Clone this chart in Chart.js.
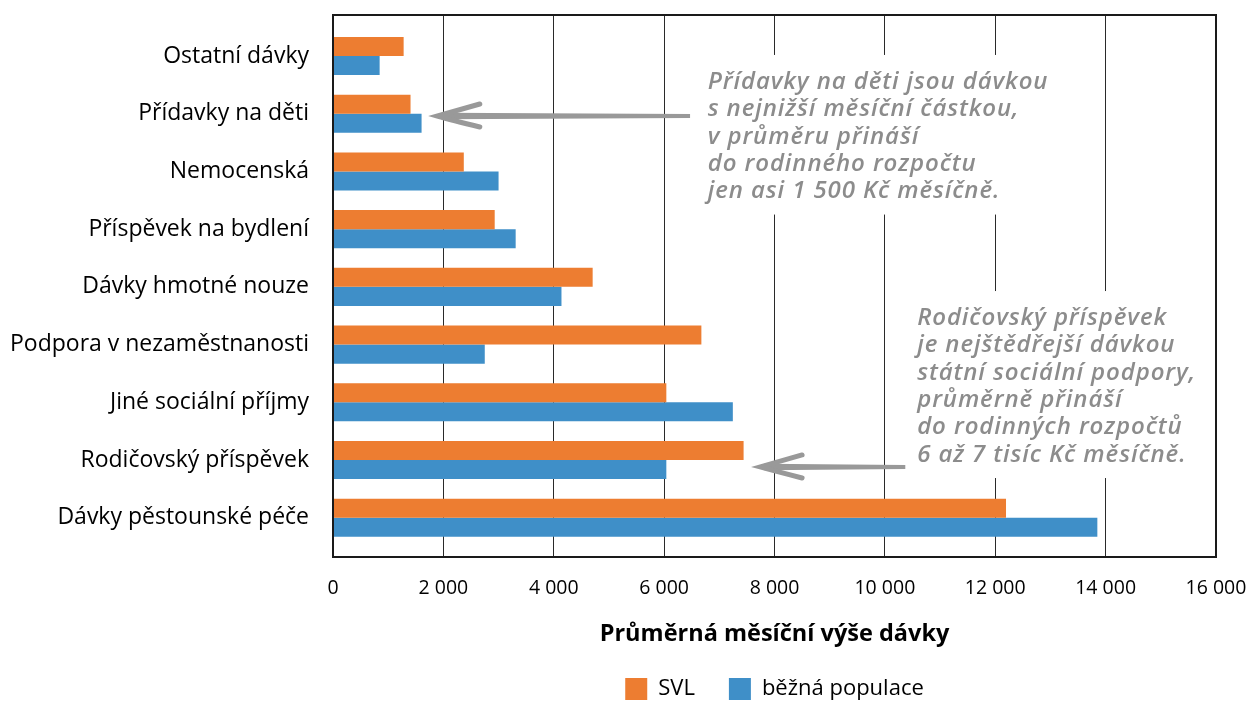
<!DOCTYPE html>
<html>
<head>
<meta charset="utf-8">
<script src="https://cdn.jsdelivr.net/npm/chart.js@4"></script>
<style>
  html, body { margin: 0; padding: 0; background: #fff; }
  #wrap { width: 1255px; height: 701px; }
</style>
</head>
<body>
<div id="wrap"><canvas id="c"></canvas></div>
<script>
const categories = [
  "Ostatní dávky",
  "Přídavky na děti",
  "Nemocenská",
  "Příspěvek na bydlení",
  "Dávky hmotné nouze",
  "Podpora v nezaměstnanosti",
  "Jiné sociální příjmy",
  "Rodičovský příspěvek",
  "Dávky pěstounské péče"
];
const svl = [1280, 1405, 2370, 2930, 4705, 6675, 6040, 7440, 12195];
const bezna = [845, 1605, 3000, 3310, 4140, 2750, 7245, 6040, 13850];
const seriesNames = ["SVL", "běžná populace"];
const xTitle = "Průměrná měsíční výše dávky";

const note1 = [
  "Přídavky na děti jsou dávkou",
  "s nejnižší měsíční částkou,",
  "v průměru přináší",
  "do rodinného rozpočtu",
  "jen asi 1 500 Kč měsíčně."
];
const note2 = [
  "Rodičovský příspěvek",
  "je nejštědřejší dávkou",
  "státní sociální podpory,",
  "průměrně přináší",
  "do rodinných rozpočtů",
  "6 až 7 tisíc Kč měsíčně."
];

const ORANGE = "#ED7D31";
const BLUE = "#3F8FC8";
const NOTE_GRAY = "#8c8c8c";

function fmt(v) {
  return String(v).replace(/\B(?=(\d{3})+(?!\d))/g, "\u00a0");
}

// poznámky a šipky kreslené přes osy grafu
const notes = [
  { lines: note1, x: 6790, y: 0.45, arrow: { from: 6470, to: 1890, head: 2660, y: 1.04 } },
  { lines: note2, x: 10585, y: 4.54, arrow: { from: 10370, to: 7740, head: 8500, y: 7.12 } }
];

const notesPlugin = {
  id: "notes",
  beforeDatasetsDraw(chart) {
    const { ctx, scales: { x, y } } = chart;
    const lh = 27.4;
    ctx.save();
    ctx.font = "italic 600 24px 'Open Sans'";
    ctx.letterSpacing = "0.9px";
    notes.forEach(n => {
      const left = x.getPixelForValue(n.x);
      const top = y.getPixelForValue(n.y);
      let w = 0;
      n.lines.forEach(t => { w = Math.max(w, ctx.measureText(t).width); });
      ctx.fillStyle = "#fff";
      ctx.fillRect(left - 10, top - 27, w + 22, lh * (n.lines.length - 1) + 50);
      ctx.fillStyle = NOTE_GRAY;
      ctx.textBaseline = "middle";
      n.lines.forEach((t, i) => ctx.fillText(t, left, top + i * lh));
    });
    ctx.restore();
  },
  afterDatasetsDraw(chart) {
    const { ctx, chartArea: a, scales: { x, y } } = chart;
    ctx.save();
    ctx.strokeStyle = "#1a1a1a";
    ctx.lineWidth = 2;
    ctx.strokeRect(a.left, a.top, a.right - a.left, a.bottom - a.top);

    ctx.strokeStyle = "#999";
    ctx.fillStyle = "#999";
    ctx.lineCap = "round";
    notes.forEach(n => {
      const ar = n.arrow;
      const x0 = x.getPixelForValue(ar.from);
      const x1 = x.getPixelForValue(ar.to);
      const xh = x.getPixelForValue(ar.head);
      const py = y.getPixelForValue(ar.y);
      // zužující se tělo šipky
      ctx.beginPath();
      ctx.moveTo(x1 + 4, py - 3.2);
      ctx.lineTo(x0, py - 2);
      ctx.lineTo(x0, py + 2);
      ctx.lineTo(x1 + 4, py + 3.2);
      ctx.closePath();
      ctx.fill();
      ctx.lineWidth = 5;
      ctx.beginPath();
      ctx.moveTo(xh, py - 12);
      ctx.quadraticCurveTo(x1 + 14, py - 4, x1, py);
      ctx.quadraticCurveTo(x1 + 14, py + 4, xh, py + 11);
      ctx.stroke();
    });
    ctx.restore();
  }
};

function noPad(s) {
  s.paddingTop = 0;
  s.paddingBottom = 0;
  s.paddingLeft = 0;
  s.paddingRight = 0;
}

new Chart(document.getElementById("c"), {
  type: "bar",
  data: {
    datasets: [
      {
        label: seriesNames[0],
        data: svl.map((v, i) => ({ x: v, y: i })),
        backgroundColor: ORANGE
      },
      {
        label: seriesNames[1],
        data: bezna.map((v, i) => ({ x: v, y: i })),
        backgroundColor: BLUE
      }
    ]
  },
  options: {
    indexAxis: "y",
    responsive: true,
    maintainAspectRatio: false,
    animation: false,
    layout: { padding: { top: 15, right: 39, left: 0, bottom: -9 } },
    datasets: { bar: { barPercentage: 1, categoryPercentage: 0.66 } },
    scales: {
      x: {
        type: "linear",
        min: 0,
        max: 16000,
        afterFit: s => { noPad(s); s.height = 87; },
        ticks: {
          stepSize: 2000,
          padding: 20,
          color: "#000",
          font: { family: "'Open Sans'", size: 19.5 },
          callback: v => fmt(v)
        },
        grid: { color: "#2a2a2a", lineWidth: 1, drawTicks: false },
        border: { display: false },
        title: {
          display: true,
          text: xTitle,
          color: "#000",
          font: { family: "'Open Sans'", size: 23.5, weight: "bold" },
          padding: { top: 0, bottom: -4 }
        }
      },
      y: {
        type: "linear",
        reverse: true,
        offset: false,
        min: -0.71,
        max: 8.68,
        afterBuildTicks: s => { s.ticks = categories.map((_, i) => ({ value: i })); },
        afterFit: s => { noPad(s); s.width = 333; },
        ticks: {
          padding: 24,
          color: "#000",
          font: { family: "'Open Sans'", size: 23 },
          callback: v => categories[v]
        },
        grid: { display: false, drawTicks: false, offset: false },
        border: { display: false }
      }
    },
    plugins: {
      legend: {
        position: "bottom",
        fullSize: false,
        labels: {
          boxWidth: 22,
          boxHeight: 22,
          padding: 34,
          color: "#000",
          font: { family: "'Open Sans'", size: 22 }
        }
      },
      tooltip: { enabled: false }
    }
  },
  plugins: [notesPlugin]
});
</script>
</body>
</html>
